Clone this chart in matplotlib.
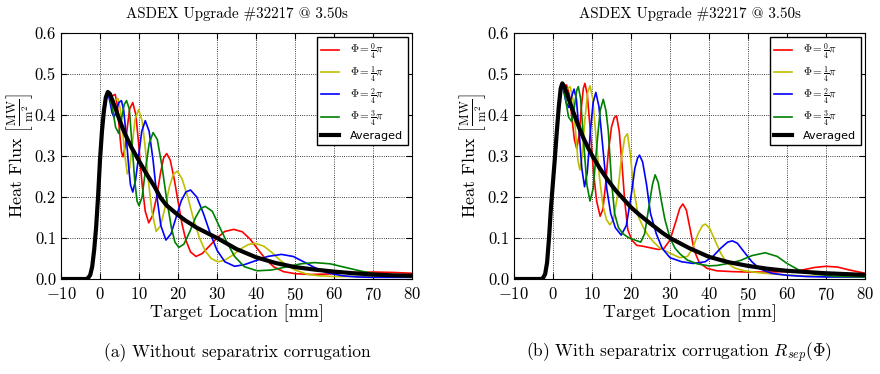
import matplotlib.pyplot as plt

plt.rcParams['font.family'] = ['cmr10', 'DejaVu Serif']
plt.rcParams['mathtext.fontset'] = 'cm'
plt.rcParams['axes.formatter.use_mathtext'] = True

title = 'ASDEX Upgrade #32217 @ 3.50s'
xlabel = 'Target Location [mm]'
ylabel = r'Heat Flux $\left[\frac{\mathrm{MW}}{\mathrm{m}^2}\right]$'
captions = ['(a) Without separatrix corrugation',
            r'(b) With separatrix corrugation $R_{sep}(\Phi)$']
phase_labels = [r'$\Phi = \frac{0}{4}\pi$', r'$\Phi = \frac{1}{4}\pi$',
                r'$\Phi = \frac{2}{4}\pi$', r'$\Phi = \frac{3}{4}\pi$']
avg_label = 'Averaged'
xticks = [-10, 0, 10, 20, 30, 40, 50, 60, 70, 80]
yticks = [0.0, 0.1, 0.2, 0.3, 0.4, 0.5, 0.6]

# --- (a) without corrugation: common rise up to the peak
rise_a_x = [-10, -3.5, -3, -2.5, -2, -1.5, -1, -0.5, 0, 0.5, 1, 1.5, 2]
rise_a_y = [0, 0, 0.003, 0.01, 0.03, 0.07, 0.125, 0.2, 0.29, 0.36, 0.41, 0.443, 0.456]

avg_a_x = [2.5, 3, 4, 5, 6, 7, 8, 9, 10, 12, 14, 15.4, 17, 20, 22, 25, 30, 35, 40,
           45, 50, 55, 60, 65, 70, 75, 80]
avg_a_y = [0.452, 0.44, 0.415, 0.388, 0.363, 0.342, 0.322, 0.305, 0.288, 0.255, 0.225,
           0.2, 0.18, 0.156, 0.142, 0.124, 0.1, 0.073, 0.053, 0.039, 0.029, 0.023,
           0.018, 0.014, 0.011, 0.009, 0.008]

red_a_x = [2.6, 3.2, 3.9, 4.5, 5.0, 5.5, 5.9, 6.4, 7.0, 7.6, 8.4, 9.2, 10.0, 10.8, 11.6,
           12.5, 13.5, 14.5, 15.5, 16.3, 17.1, 18.0, 19.0, 20.0, 21.0, 22.0, 23.2, 24.6,
           26.2, 28, 30, 32, 34.3, 36.5, 38.5, 40.5, 42.5, 44.5, 47, 50, 54, 58, 62, 66,
           70, 75, 80]
red_a_y = [0.448, 0.447, 0.45, 0.42, 0.36, 0.31, 0.298, 0.32, 0.37, 0.415, 0.43, 0.4,
           0.32, 0.23, 0.165, 0.137, 0.155, 0.2, 0.258, 0.295, 0.306, 0.29, 0.245, 0.19,
           0.135, 0.095, 0.066, 0.055, 0.062, 0.08, 0.1, 0.116, 0.121, 0.115, 0.097,
           0.072, 0.048, 0.03, 0.018, 0.013, 0.011, 0.012, 0.014, 0.016, 0.017, 0.016,
           0.014]

yel_a_x = [2.6, 3.2, 3.8, 4.6, 5.2, 5.8, 6.4, 7.0, 7.6, 8.3, 9.0, 9.9, 10.8, 11.6, 12.4,
           13.3, 14.4, 15.5, 16.7, 17.8, 18.8, 19.8, 21, 22.5, 24, 25.5, 27, 28.5, 30.2,
           32, 34, 36, 38, 39.8, 42, 44, 46, 48, 50, 53, 56, 60, 65, 70, 75, 80]
yel_a_y = [0.45, 0.437, 0.435, 0.44, 0.415, 0.36, 0.3, 0.256, 0.27, 0.33, 0.39, 0.413,
           0.385, 0.32, 0.24, 0.165, 0.116, 0.13, 0.175, 0.225, 0.255, 0.263, 0.245, 0.2,
           0.145, 0.1, 0.068, 0.05, 0.042, 0.046, 0.058, 0.073, 0.084, 0.087, 0.08,
           0.065, 0.047, 0.032, 0.022, 0.012, 0.008, 0.006, 0.006, 0.007, 0.008, 0.009]

blu_a_x = [2.6, 3.1, 3.6, 4.2, 4.8, 5.5, 6.1, 6.7, 7.3, 7.8, 8.4, 9.1, 9.9, 10.7, 11.6,
           12.6, 13.6, 14.6, 15.6, 16.9, 18.2, 19.5, 20.8, 22, 23.2, 24.8, 26.5, 28.3, 30,
           32, 34.5, 37, 40, 43, 46.5, 49.5, 52, 55, 58, 62, 66, 70, 75, 80]
blu_a_y = [0.43, 0.405, 0.395, 0.41, 0.43, 0.435, 0.41, 0.35, 0.28, 0.23, 0.212, 0.24,
           0.3, 0.36, 0.386, 0.36, 0.29, 0.2, 0.13, 0.095, 0.11, 0.15, 0.19, 0.212,
           0.217, 0.2, 0.16, 0.11, 0.07, 0.042, 0.031, 0.035, 0.045, 0.055, 0.06, 0.055,
           0.043, 0.028, 0.016, 0.008, 0.005, 0.004, 0.004, 0.004]

grn_a_x = [2.6, 3.3, 4.0, 4.8, 5.5, 6.2, 6.8, 7.5, 8.2, 8.9, 9.5, 10.0, 10.8, 11.7, 12.6,
           13.6, 14.7, 15.8, 17, 18.3, 19.2, 20.2, 21.5, 23, 24.5, 25.8, 27, 28.8, 30.5,
           32.5, 34.5, 37, 40.3, 44, 48, 51.5, 55, 59, 63, 67, 71, 75, 80]
grn_a_y = [0.44, 0.41, 0.37, 0.355, 0.39, 0.425, 0.435, 0.415, 0.33, 0.24, 0.19, 0.179,
           0.2, 0.27, 0.33, 0.357, 0.34, 0.28, 0.2, 0.125, 0.09, 0.077, 0.085, 0.115,
           0.15, 0.172, 0.177, 0.165, 0.13, 0.09, 0.055, 0.03, 0.02, 0.022, 0.03, 0.037,
           0.04, 0.037, 0.028, 0.019, 0.012, 0.008, 0.005]

# --- (b) with corrugation
rise_b_x = [-10, -3, -2.5, -2, -1.5, -1, -0.5, 0, 0.5, 1, 1.5, 2, 2.4]
rise_b_y = [0, 0, 0.003, 0.012, 0.04, 0.1, 0.175, 0.235, 0.295, 0.36, 0.42, 0.465, 0.477]

avg_b_x = [3, 4, 5, 6, 7, 8, 9, 10, 12, 14, 16, 17.6, 20, 22, 25, 28, 30, 32.6, 35, 40,
           45, 50, 55, 60, 65, 70, 75, 80]
avg_b_y = [0.468, 0.44, 0.413, 0.387, 0.362, 0.34, 0.32, 0.302, 0.27, 0.242, 0.217,
           0.2, 0.175, 0.158, 0.135, 0.113, 0.1, 0.087, 0.075, 0.054, 0.041, 0.032,
           0.025, 0.02, 0.017, 0.014, 0.012, 0.01]

red_b_x = [2.7, 3.5, 4.2, 4.9, 5.5, 6.1, 6.7, 7.3, 7.8, 8.2, 8.8, 9.6, 10.4, 11.2, 12.1,
           12.8, 13.5, 14.2, 15.0, 15.7, 16.3, 17.0, 17.7, 18.4, 19.2, 20.2, 21.5, 23,
           25, 27, 28.5, 30, 31.5, 32.5, 33.3, 34.2, 35.2, 36.2, 37.5, 39.5, 42, 46, 50,
           55, 60, 64, 67, 70, 73, 76, 80]
red_b_y = [0.47, 0.473, 0.45, 0.39, 0.34, 0.318, 0.35, 0.42, 0.465, 0.477, 0.45, 0.36,
           0.26, 0.19, 0.153, 0.17, 0.23, 0.31, 0.37, 0.393, 0.398, 0.36, 0.28, 0.19,
           0.12, 0.095, 0.082, 0.08, 0.076, 0.072, 0.075, 0.095, 0.14, 0.172, 0.183,
           0.168, 0.12, 0.07, 0.04, 0.026, 0.02, 0.018, 0.017, 0.017, 0.018, 0.022,
           0.028, 0.031, 0.029, 0.022, 0.014]

yel_b_x = [2.7, 3.5, 4.4, 5.1, 5.8, 6.4, 6.9, 7.5, 8.2, 8.9, 9.5, 10.2, 11, 11.9, 12.8,
           13.7, 14.6, 15.5, 16.5, 17.5, 18.4, 19.1, 19.9, 20.6, 21.9, 23.2, 24.5, 25.8,
           27.5, 30, 32.5, 34.5, 35.8, 37.2, 38.3, 39.1, 40.2, 41.5, 43, 44.5, 46.5, 49,
           53, 58, 63, 70, 80]
yel_b_y = [0.468, 0.462, 0.469, 0.44, 0.36, 0.29, 0.266, 0.3, 0.39, 0.455, 0.471, 0.44,
           0.35, 0.25, 0.18, 0.145, 0.132, 0.145, 0.2, 0.29, 0.345, 0.354, 0.3, 0.225,
           0.152, 0.125, 0.105, 0.09, 0.075, 0.063, 0.052, 0.055, 0.075, 0.11, 0.13,
           0.134, 0.123, 0.095, 0.063, 0.04, 0.027, 0.02, 0.015, 0.011, 0.008, 0.006,
           0.005]

blu_b_x = [2.7, 3.4, 4.1, 4.8, 5.4, 6, 6.7, 7.4, 8.1, 8.8, 9.6, 10.3, 11, 11.8, 12.8,
           13.8, 14.8, 16, 17.5, 18.8, 20, 21, 21.7, 22.2, 23, 24, 25, 26.5, 28, 30, 33,
           36, 39, 41, 43, 44.8, 46, 47.3, 49, 51, 53, 56, 60, 65, 70, 80]
blu_b_y = [0.46, 0.43, 0.418, 0.445, 0.463, 0.44, 0.36, 0.27, 0.225, 0.26, 0.36, 0.43,
           0.455, 0.42, 0.32, 0.22, 0.16, 0.125, 0.107, 0.13, 0.2, 0.27, 0.295, 0.302,
           0.285, 0.23, 0.16, 0.11, 0.075, 0.052, 0.042, 0.038, 0.042, 0.055, 0.075,
           0.09, 0.093, 0.087, 0.066, 0.042, 0.025, 0.014, 0.009, 0.006, 0.005, 0.005]

grn_b_x = [2.8, 3.2, 4.0, 4.8, 5.5, 6.1, 6.5, 7.1, 7.9, 8.7, 9.5, 10.3, 11.2, 12.1, 12.9,
           13.6, 14.2, 15, 15.8, 16.8, 18, 19.5, 21, 22.5, 23.5, 24.5, 25.5, 26.2, 27,
           27.8, 28.7, 30, 31.3, 32.7, 34.5, 37, 40, 42, 45, 48, 51, 54.4, 57.5, 60, 63,
           67, 72, 80]
grn_b_y = [0.465, 0.44, 0.395, 0.384, 0.42, 0.46, 0.469, 0.44, 0.33, 0.23, 0.19, 0.22,
           0.32, 0.41, 0.438, 0.41, 0.36, 0.24, 0.16, 0.125, 0.11, 0.1, 0.095, 0.09, 0.11,
           0.17, 0.23, 0.254, 0.235, 0.19, 0.145, 0.1, 0.075, 0.06, 0.046, 0.037, 0.032,
           0.033, 0.038, 0.045, 0.057, 0.064, 0.055, 0.038, 0.022, 0.012, 0.007, 0.005]

panels = [
    (rise_a_x, rise_a_y, [(red_a_x, red_a_y), (yel_a_x, yel_a_y), (blu_a_x, blu_a_y),
                          (grn_a_x, grn_a_y)], (avg_a_x, avg_a_y)),
    (rise_b_x, rise_b_y, [(red_b_x, red_b_y), (yel_b_x, yel_b_y), (blu_b_x, blu_b_y),
                          (grn_b_x, grn_b_y)], (avg_b_x, avg_b_y)),
]
colors = ['r', 'y', 'b', 'g']

fig = plt.figure(figsize=(8.8, 3.74), dpi=100)
axes = [fig.add_axes([0.0693, 0.254, 0.399, 0.658]),
        fig.add_axes([0.584, 0.254, 0.399, 0.658])]

for ax, (rx, ry, phases, avg), cap, cx in zip(axes, panels, captions, [0.27, 0.772]):
    for (px, py), c, lab in zip(phases, colors, phase_labels):
        ax.plot(rx + px, ry + py, color=c, lw=1.2, label=lab)
    ax.plot(rx + avg[0], ry + avg[1], color='k', lw=3, label=avg_label)

    ax.set_xlim(-10, 80)
    ax.set_ylim(0, 0.6)
    ax.set_xticks(xticks)
    ax.set_yticks(yticks)
    ax.set_yticklabels(['%.1f' % v for v in yticks])
    ax.tick_params(direction='in', top=True, right=True, length=4, labelsize=12)
    ax.tick_params(axis='x', pad=5)
    ax.grid(True, color='k', linestyle=':', linewidth=0.6)
    ax.set_title(title, fontsize=10.8, pad=11)
    ax.set_xlabel(xlabel, fontsize=13, labelpad=1)
    ax.set_ylabel(ylabel, fontsize=13, labelpad=0)
    leg = ax.legend(loc='upper right', fancybox=False, framealpha=1,
                    edgecolor='k', handlelength=1.6, handletextpad=1.0,
                    labelspacing=0.25, borderaxespad=0.4,
                    prop={'family': 'DejaVu Sans', 'size': 8})
    leg.get_frame().set_linewidth(1.0)
    fig.text(cx, 0.056, cap, ha='center', va='center', fontsize=12.5)

fig.savefig('out.png', dpi=100)
